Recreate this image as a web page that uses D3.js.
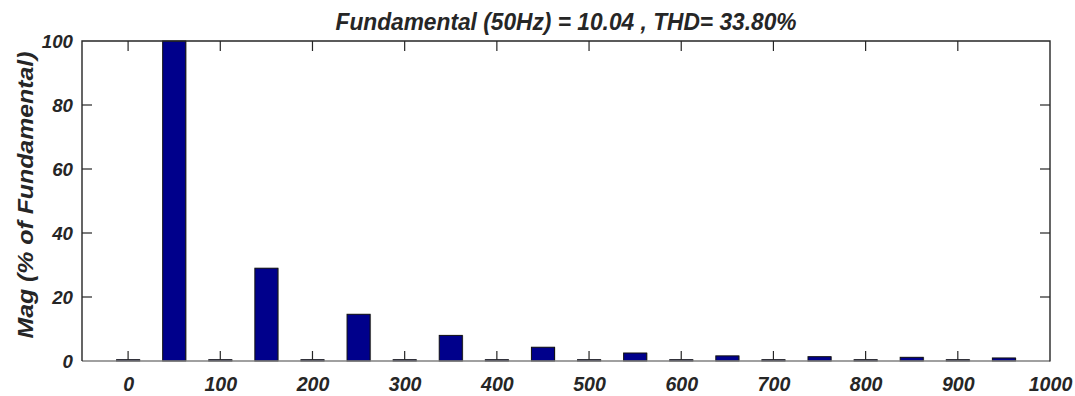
<!DOCTYPE html>
<html>
<head>
<meta charset="utf-8">
<script src="https://cdn.jsdelivr.net/npm/d3@7"></script>
<style>
  html, body { margin: 0; padding: 0; background: #fff; }
  svg { display: block; }
  text { font-family: "Liberation Sans", Arial, sans-serif; font-weight: bold; font-style: italic; fill: #262626; }
</style>
</head>
<body>
<script>
// Harmonic spectrum: frequency (Hz) and magnitude in % of fundamental
const frequencies = [0, 50, 100, 150, 200, 250, 300, 350, 400, 450, 500, 550, 600, 650, 700, 750, 800, 850, 900, 950];
const magnitudes  = [0.4, 100, 0.4, 29.0, 0.4, 14.6, 0.4, 8.0, 0.4, 4.3, 0.4, 2.5, 0.4, 1.6, 0.4, 1.35, 0.4, 1.15, 0.4, 0.95];
const xTicks = [0, 100, 200, 300, 400, 500, 600, 700, 800, 900, 1000];
const yTicks = [0, 20, 40, 60, 80, 100];
const titleText = "Fundamental (50Hz) = 10.04 , THD= 33.80%";
const yLabelText = "Mag (% of Fundamental)";

const W = 1075, H = 396;
const m = { left: 82, right: 25, top: 41, bottom: 35 };
const x0 = m.left, x1 = W - m.right, y0 = H - m.bottom, y1 = m.top;

const svg = d3.select("body").append("svg").attr("width", W).attr("height", H);

const x = d3.scaleLinear().domain([-50, 1000]).range([x0, x1]);
const y = d3.scaleLinear().domain([0, 100]).range([y0, y1]);
const barW = x(25) - x(0);
const tickLen = 10;
const axisColor = "#262626";

// Bars with a faint light-grey shadow on the right edge
const bars = svg.append("g");
frequencies.forEach((f, i) => {
  const v = magnitudes[i];
  const bx = x(f) - barW / 2;
  const by = y(v);
  const bh = Math.max(y0 - by, 1);
  bars.append("rect")
    .attr("x", bx + 1).attr("y", by).attr("width", barW).attr("height", bh)
    .attr("fill", "#b8b8b8");
  bars.append("rect")
    .attr("x", bx).attr("y", by).attr("width", barW).attr("height", bh)
    .attr("fill", "#00008b").attr("stroke", "#111").attr("stroke-width", 1);
});

// Bottom axis labels
const gx = svg.append("g").attr("transform", `translate(0,${y0})`)
  .call(d3.axisBottom(x).tickValues(xTicks).tickSize(0).tickPadding(15).tickFormat(d3.format("d")));
gx.select(".domain").remove();
gx.selectAll("text").attr("font-size", 21).attr("dy", "0.71em")
  .attr("lengthAdjust", "spacingAndGlyphs")
  .attr("textLength", d => String(d).length * 10.9);

// Left axis labels
const gy = svg.append("g").attr("transform", `translate(${x0},0)`)
  .call(d3.axisLeft(y).tickValues(yTicks).tickSize(0).tickPadding(9).tickFormat(d3.format("d")));
gy.select(".domain").remove();
gy.selectAll("text").attr("font-size", 19).attr("dy", "0.36em")
  .attr("lengthAdjust", "spacingAndGlyphs")
  .attr("textLength", d => String(d).length * 10.4);

// Inward tick marks on all four sides
const ticks = svg.append("g").attr("stroke", axisColor).attr("stroke-width", 1.2);
xTicks.filter(t => x(t) < x1 - 1).forEach(t => {
  ticks.append("line").attr("x1", x(t)).attr("x2", x(t)).attr("y1", y0).attr("y2", y0 - tickLen);
  ticks.append("line").attr("x1", x(t)).attr("x2", x(t)).attr("y1", y1).attr("y2", y1 + tickLen);
});
yTicks.filter(t => t > 0 && t < 100).forEach(t => {
  ticks.append("line").attr("x1", x0).attr("x2", x0 + tickLen).attr("y1", y(t)).attr("y2", y(t));
  ticks.append("line").attr("x1", x1).attr("x2", x1 - tickLen).attr("y1", y(t)).attr("y2", y(t));
});

// Box: baseline in grey, other three sides dark
svg.append("line").attr("x1", x0).attr("x2", x1).attr("y1", y0).attr("y2", y0)
  .attr("stroke", "#808080").attr("stroke-width", 1.5);
svg.append("path")
  .attr("d", `M${x0},${y0}V${y1}H${x1}V${y0 + 0.5}`)
  .attr("fill", "none").attr("stroke", axisColor).attr("stroke-width", 1.4);

// Title centred over the plot box, and y-axis label
svg.append("text").attr("x", (x0 + x1) / 2).attr("y", 30).attr("text-anchor", "middle")
  .attr("font-size", 24)
  .attr("lengthAdjust", "spacingAndGlyphs").attr("textLength", 461)
  .text(titleText);

svg.append("text")
  .attr("transform", `translate(33,195) rotate(-90)`)
  .attr("text-anchor", "middle").attr("font-size", 22)
  .attr("lengthAdjust", "spacingAndGlyphs").attr("textLength", 287)
  .text(yLabelText);
</script>
</body>
</html>
